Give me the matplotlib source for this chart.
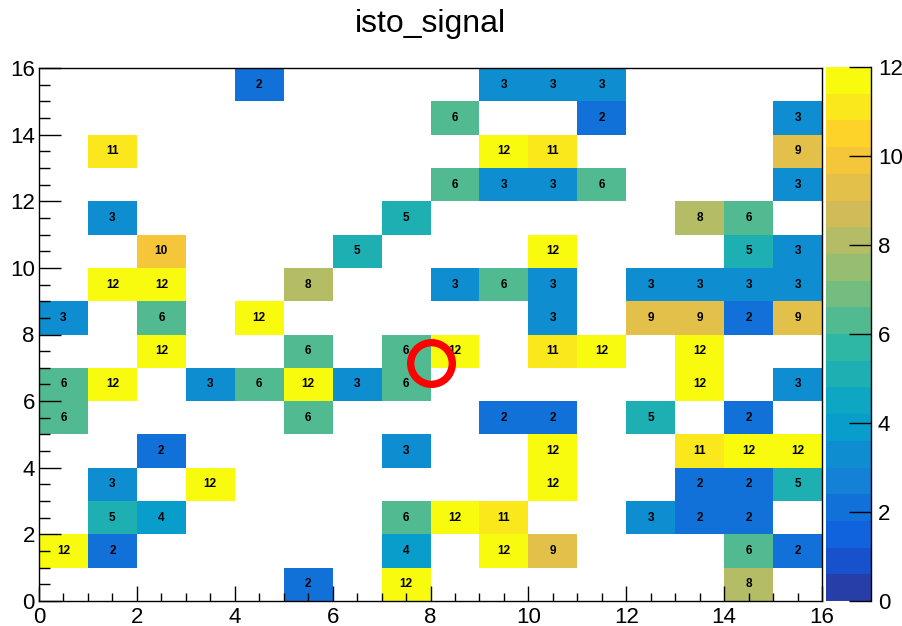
"""
isto_signal: 16x16 occupancy map drawn ROOT-style (colz + text).
"""

import numpy as np
import matplotlib
matplotlib.use('Agg')
import matplotlib.pyplot as plt
from matplotlib.colors import LinearSegmentedColormap, ListedColormap, BoundaryNorm
from matplotlib.ticker import MultipleLocator

# ---- data: non-empty bins, one list per row (y bin) as (x bin, content) ----
rows = {
    15: [(4, 2), (9, 3), (10, 3), (11, 3)],
    14: [(8, 6), (11, 2), (15, 3)],
    13: [(1, 11), (9, 12), (10, 11), (15, 9)],
    12: [(8, 6), (9, 3), (10, 3), (11, 6), (15, 3)],
    11: [(1, 3), (7, 5), (13, 8), (14, 6)],
    10: [(2, 10), (6, 5), (10, 12), (14, 5), (15, 3)],
    9:  [(1, 12), (2, 12), (5, 8), (8, 3), (9, 6), (10, 3),
         (12, 3), (13, 3), (14, 3), (15, 3)],
    8:  [(0, 3), (2, 6), (4, 12), (10, 3), (12, 9), (13, 9), (14, 2), (15, 9)],
    7:  [(2, 12), (5, 6), (7, 6), (8, 12), (10, 11), (11, 12), (13, 12)],
    6:  [(0, 6), (1, 12), (3, 3), (4, 6), (5, 12), (6, 3), (7, 6),
         (13, 12), (15, 3)],
    5:  [(0, 6), (5, 6), (9, 2), (10, 2), (12, 5), (14, 2)],
    4:  [(2, 2), (7, 3), (10, 12), (13, 11), (14, 12), (15, 12)],
    3:  [(1, 3), (3, 12), (10, 12), (13, 2), (14, 2), (15, 5)],
    2:  [(1, 5), (2, 4), (7, 6), (8, 12), (9, 11), (12, 3), (13, 2), (14, 2)],
    1:  [(0, 12), (1, 2), (7, 4), (9, 12), (10, 9), (14, 6), (15, 2)],
    0:  [(5, 2), (7, 12), (14, 8)],
}
nbins = 16
zmax = 12
ndivz = 20

# highlighted point
marker_x = [8.0]
marker_y = [7.15]

grid = np.zeros((nbins, nbins))
for iy, cells in rows.items():
    for ix, val in cells:
        grid[iy, ix] = val

# ---- ROOT kBird palette, 20 contour levels ----
stops = np.linspace(0, 1, 9)
red = [0.2082, 0.0592, 0.0780, 0.0232, 0.1802, 0.5301, 0.8186, 0.9956, 0.9764]
green = [0.1664, 0.3599, 0.5041, 0.6419, 0.7178, 0.7492, 0.7328, 0.7862, 0.9832]
blue = [0.5293, 0.8684, 0.8385, 0.7914, 0.6425, 0.4662, 0.3499, 0.1968, 0.0539]
bird = LinearSegmentedColormap.from_list(
    'bird', list(zip(stops, zip(red, green, blue))), N=255)
cmap = ListedColormap([bird((i + 0.99) / ndivz) for i in range(ndivz)])
bounds = np.linspace(0, zmax, ndivz + 1)
bounds[1:-1] -= 1e-6
norm = BoundaryNorm(bounds, cmap.N, clip=True)

plt.rcParams.update({
    'font.family': ['Liberation Sans', 'DejaVu Sans'],
    'font.size': 16,
})

W, H = 902, 626
fig = plt.figure(figsize=(W / 100, H / 100), dpi=100)
ax = fig.add_axes([39 / W, 1 - 601 / H, (822 - 39) / W, (601 - 68) / H])
cax = fig.add_axes([826 / W, 1 - 601 / H, (871 - 826) / W, (601 - 67) / H])

edges = np.arange(nbins + 1)
ax.pcolormesh(edges, edges, np.ma.masked_equal(grid, 0), cmap=cmap, norm=norm)
for iy in range(nbins):
    for ix in range(nbins):
        if grid[iy, ix] > 0:
            ax.text(ix + 0.5, iy + 0.5, f'{int(grid[iy, ix])}', ha='center',
                    va='center', fontsize=8.5, fontweight='bold', color='black')

ax.plot(marker_x, marker_y, 'o', ms=30, mfc='none', mec='#ff0000', mew=5.3,
        zorder=5, clip_on=False)

ax.set_xlim(0, nbins)
ax.set_ylim(0, nbins)
for a in (ax.xaxis, ax.yaxis):
    a.set_major_locator(MultipleLocator(2))
    a.set_minor_locator(MultipleLocator(0.5))
ax.tick_params(axis='x', which='major', direction='in', length=11, width=1, pad=4)
ax.tick_params(axis='x', which='minor', direction='in', length=5.5, width=1)
ax.tick_params(axis='y', which='major', direction='in', length=16, width=1, pad=3)
ax.tick_params(axis='y', which='minor', direction='in', length=8, width=1)
ax.tick_params(labelsize=16)
for sp in ax.spines.values():
    sp.set_linewidth(1)

fig.text((39 + 822) / 2 / W, 1 - 32 / H, 'isto_signal', ha='center',
         va='baseline', fontsize=23)

# ---- palette axis ----
cb = fig.colorbar(plt.cm.ScalarMappable(norm=norm, cmap=cmap), cax=cax,
                  ticks=np.arange(0, zmax + 1, 2))
cb.outline.set_visible(False)
cax.set_ylim(0, zmax)
cax.tick_params(direction='in', length=16, width=1, pad=5, labelsize=16)
cax.plot([1, 1], [0, 1], transform=cax.transAxes, color='black', lw=1,
         clip_on=False)
cax.minorticks_off()

fig.savefig('out.png', dpi=100)
